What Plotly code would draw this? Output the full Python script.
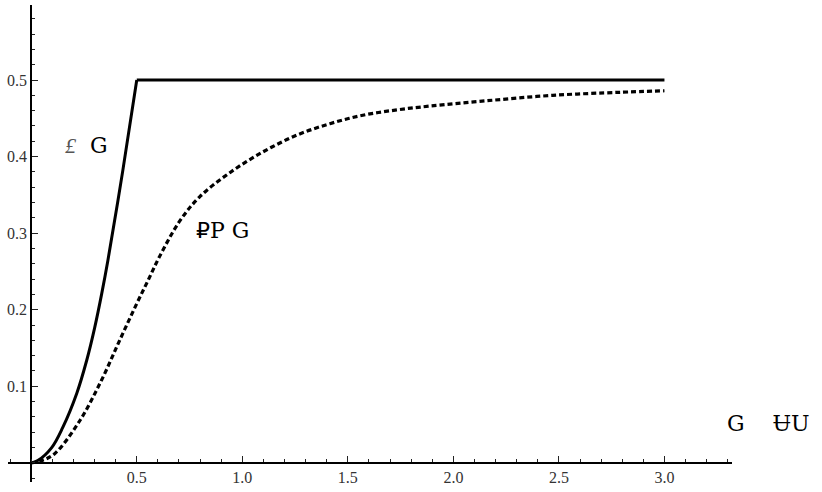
import plotly.graph_objects as go

# Solid curve (upper): rising part, then flat at 0.5
solid_x = [0.0, 0.031, 0.097, 0.149, 0.216, 0.263, 0.301, 0.334, 0.363, 0.434, 0.50, 3.0]
solid_y = [0.0, 0.003, 0.020, 0.046, 0.091, 0.134, 0.177, 0.221, 0.264, 0.382, 0.50, 0.50]

# Dotted curve (lower)
dot_x = [0.0, 0.05, 0.111, 0.23, 0.333, 0.419, 0.50, 0.553, 0.609, 0.704, 0.80, 0.941,
         1.097, 1.258, 1.415, 1.571, 1.732, 1.889, 2.16, 2.47, 2.79, 3.0]
dot_y = [0.0, 0.003, 0.012, 0.055, 0.108, 0.160, 0.208, 0.238, 0.270, 0.316, 0.348, 0.379,
         0.406, 0.428, 0.443, 0.454, 0.461, 0.466, 0.473, 0.480, 0.484, 0.486]

x_ticks = [0.5, 1.0, 1.5, 2.0, 2.5, 3.0]
x_labels = ["0.5", "1.0", "1.5", "2.0", "2.5", "3.0"]
y_ticks = [0.1, 0.2, 0.3, 0.4, 0.5]
y_labels = ["0.1", "0.2", "0.3", "0.4", "0.5"]

x_range = [-0.11, 3.32]
y_range = [-0.025, 0.598]

fig = go.Figure()
# rising part of the solid curve (smooth)
fig.add_trace(go.Scatter(x=solid_x[:11], y=solid_y[:11], mode="lines",
                         line=dict(color="black", width=3, shape="spline", smoothing=1.0),
                         hoverinfo="skip"))
# flat part of the solid curve
fig.add_trace(go.Scatter(x=solid_x[10:], y=solid_y[10:], mode="lines",
                         line=dict(color="black", width=3),
                         hoverinfo="skip"))
fig.add_trace(go.Scatter(x=dot_x, y=dot_y, mode="lines",
                         line=dict(color="black", width=3.2, dash="5px,3px", shape="spline", smoothing=1.0),
                         hoverinfo="skip"))

xpos = (0 - x_range[0]) / (x_range[1] - x_range[0])
ypos = (0 - y_range[0]) / (y_range[1] - y_range[0])

tickfont = dict(family="Liberation Serif", size=16, color="#333")

fig.update_layout(
    width=822, height=492,
    margin=dict(l=8, r=90, t=5, b=10),
    paper_bgcolor="white", plot_bgcolor="white",
    showlegend=False,
    xaxis=dict(range=x_range, showgrid=False, zeroline=False,
               anchor="free", position=ypos,
               showline=True, linecolor="black", linewidth=2,
               tickmode="array", tickvals=x_ticks, ticktext=x_labels,
               ticks="inside", ticklen=6, tickwidth=1, tickcolor="#222",
               tickfont=tickfont,
               minor=dict(tickmode="linear", tick0=0, dtick=0.1, ticks="inside",
                          ticklen=3, tickwidth=1, tickcolor="#222")),
    yaxis=dict(range=y_range, showgrid=False, zeroline=False,
               anchor="free", position=xpos,
               showline=True, linecolor="black", linewidth=2,
               tickmode="array", tickvals=y_ticks, ticktext=y_labels,
               ticks="inside", ticklen=6, tickwidth=1, tickcolor="#222",
               tickfont=tickfont,
               minor=dict(tickmode="linear", tick0=0, dtick=0.02, ticks="inside",
                          ticklen=3, tickwidth=1, tickcolor="#222")),
)

lab_font = dict(family="DejaVu Serif, Liberation Serif, serif", size=22, color="black")
fig.add_annotation(x=0.26, y=0.414, xref="x", yref="y", showarrow=False,
                   text="<i><span style='color:#555;font-family:Liberation Serif'>£</span></i>&nbsp;&nbsp;G",
                   font=lab_font)
fig.add_annotation(x=0.905, y=0.303, xref="x", yref="y", showarrow=False,
                   text="<span style='font-family:DejaVu Sans'>₽</span>P&nbsp;G",
                   font=lab_font)
fig.add_annotation(x=0.990, y=0.093, xref="paper", yref="paper", showarrow=False,
                   xanchor="left",
                   text="G&nbsp;&nbsp;&nbsp;&nbsp;ɄU",
                   font=lab_font)

fig.write_html("out.html")
